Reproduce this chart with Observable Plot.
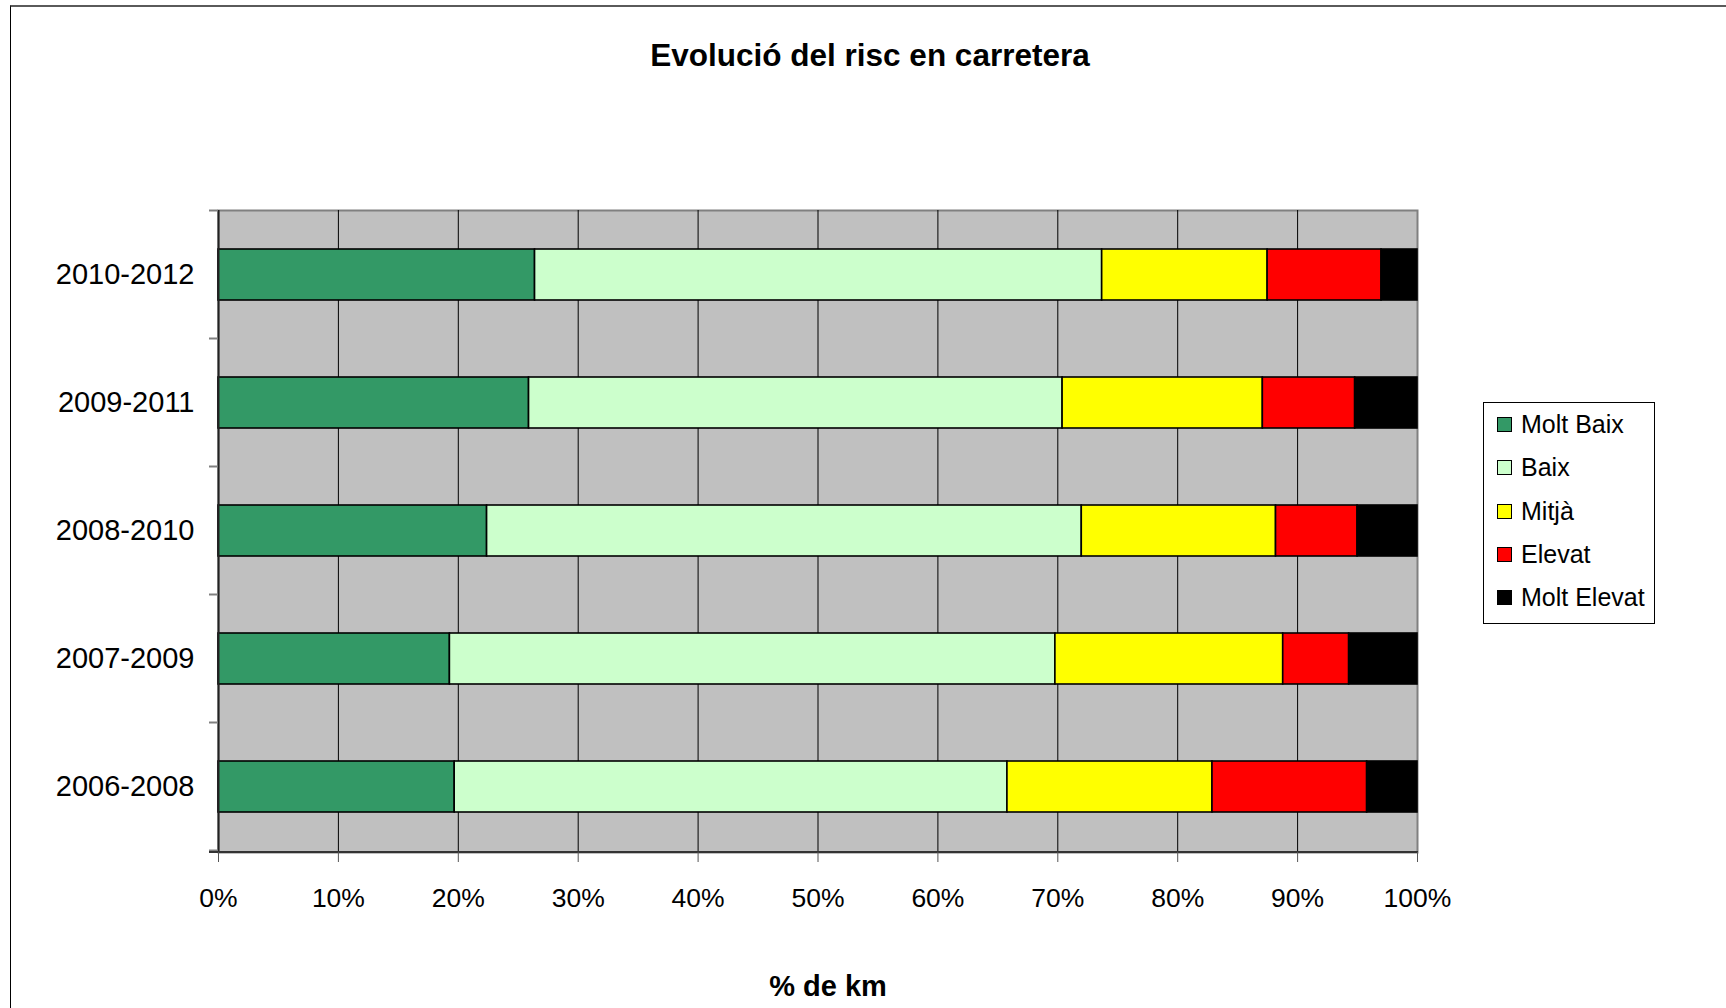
<!DOCTYPE html>
<html>
<head>
<meta charset="utf-8">
<script src="https://cdn.jsdelivr.net/npm/d3@7"></script>
<script src="https://cdn.jsdelivr.net/npm/@observablehq/plot@0.6"></script>
<style>
  html, body { margin: 0; padding: 0; background: #fff; overflow: hidden; }
  body { width: 1726px; height: 1008px; position: relative; font-family: "Liberation Sans", Arial, Helvetica, sans-serif; }
  #frame { position: absolute; left: 10px; top: 5px; width: 1800px; height: 1100px; border-top: 2px solid #5a5a5a; border-left: 1.5px solid #000; box-sizing: border-box; }
  #chart { position: absolute; left: 0; top: 0; }
  #title { position: absolute; left: 0; width: 1740px; top: 39px; text-align: center; font-weight: bold; font-size: 31.5px; line-height: 32px; color: #000; }
  #xlabel { position: absolute; left: 0; width: 1656px; top: 972px; text-align: center; font-weight: bold; font-size: 29px; line-height: 29px; color: #000; }
  #legend { position: absolute; left: 1483px; top: 402px; width: 172px; height: 222px; border: 1px solid #000; box-sizing: border-box; padding-top: 0px; background: #fff; }
  .item { height: 43.3px; display: flex; align-items: center; font-size: 25px; color: #000; white-space: nowrap; }
  .sw { width: 13px; height: 13px; border: 1.5px solid #000; margin-left: 13px; margin-right: 9px; flex: none; }
</style>
</head>
<body>
<div id="frame"></div>
<div id="chart"></div>
<div id="title">Evolució del risc en carretera</div>
<div id="xlabel">% de km</div>
<div id="legend"></div>
<script>
// ---- data ----
const periods = ["2010-2012", "2009-2011", "2008-2010", "2007-2009", "2006-2008"];
const seriesNames = ["Molt Baix", "Baix", "Mitjà", "Elevat", "Molt Elevat"];
const seriesColors = ["#339966", "#CCFFCC", "#FFFF00", "#FF0000", "#000000"];
const moltBaix   = [26.4, 25.9, 22.4, 19.3, 19.7];
const baix       = [47.3, 44.5, 49.6, 50.5, 46.1];
const mitja      = [13.8, 16.7, 16.2, 19.0, 17.1];
const elevat     = [ 9.5,  7.7,  6.8,  5.5, 12.9];
const moltElevat = [ 3.0,  5.2,  5.0,  5.7,  4.2];
const xTicks = [0, 10, 20, 30, 40, 50, 60, 70, 80, 90, 100];
const xTickLabels = ["0%", "10%", "20%", "30%", "40%", "50%", "60%", "70%", "80%", "90%", "100%"];

const seriesValues = [moltBaix, baix, mitja, elevat, moltElevat];
const rows = [];
periods.forEach((p, i) => {
  seriesNames.forEach((s, j) => rows.push({period: p, series: s, value: seriesValues[j][i]}));
});

// boundary ticks on the category axis + bottom axis line
function categoryAxisLines(index, scales, values, dims) {
  const y = scales.y;
  const step = typeof y.step === "function" ? y.step() : (dims.height - dims.marginTop - dims.marginBottom) / periods.length;
  const bw = typeof y.bandwidth === "function" ? y.bandwidth() : step * 0.4;
  const gap = (step - bw) / 2;
  const bounds = periods.map(p => y(p) - gap);
  bounds.push(y(periods[periods.length - 1]) + bw + gap);
  const g = d3.create("svg:g");
  const x0 = dims.marginLeft;
  g.selectAll("line.t").data(bounds).join("line")
    .attr("x1", x0 - 9).attr("x2", x0)
    .attr("y1", d => d).attr("y2", d => d)
    .attr("stroke", "#808080").attr("stroke-width", 2);
  const yb = dims.height - dims.marginBottom;
  g.append("line")
    .attr("x1", x0 - 9).attr("x2", dims.width - dims.marginRight + 1)
    .attr("y1", yb).attr("y2", yb)
    .attr("stroke", "#333").attr("stroke-width", 2);
  return g.node();
}

const chart = Plot.plot({
  width: 1726,
  height: 1008,
  marginLeft: 218,
  marginRight: 309,
  marginTop: 210,
  marginBottom: 156,
  style: {fontFamily: '"Liberation Sans", Arial, Helvetica, sans-serif', color: "#000", background: "transparent", overflow: "visible"},
  x: {domain: [0, 100], label: null},
  y: {domain: periods, paddingInner: 0.6, paddingOuter: 0.3, label: null},
  color: {domain: seriesNames, range: seriesColors},
  marks: [
    Plot.frame({fill: "#C0C0C0", stroke: "#808080", strokeWidth: 2}),
    Plot.ruleX(xTicks.slice(1, -1), {stroke: "#000", strokeWidth: 1}),
    Plot.barX(rows, Plot.stackX({x: "value", y: "period", fill: "series", order: seriesNames, stroke: "#000", strokeWidth: 1.6})),
    Plot.ruleX([0], {stroke: "#222", strokeWidth: 2}),
    categoryAxisLines,
    Plot.axisX({ticks: xTicks, tickFormat: d => xTickLabels[xTicks.indexOf(d)], tickSize: 10, tickPadding: 26, fontSize: 26.5, stroke: "#555", label: null}),
    Plot.axisY({tickSize: 0, tickPadding: 24, fontSize: 29, label: null})
  ]
});
document.getElementById("chart").appendChild(chart);

// legend
const legend = d3.select("#legend");
seriesNames.forEach((s, i) => {
  const it = legend.append("div").attr("class", "item");
  it.append("div").attr("class", "sw").style("background", seriesColors[i]);
  it.append("span").text(s);
});
</script>
</body>
</html>
